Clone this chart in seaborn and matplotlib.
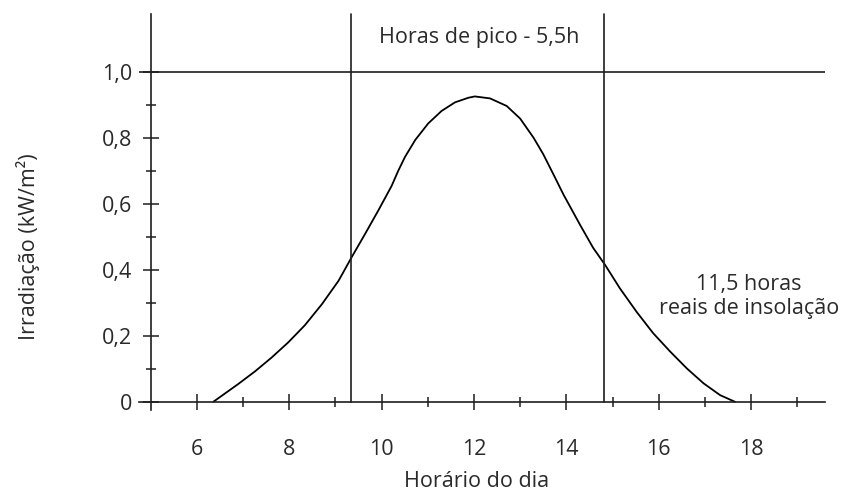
import numpy as np
import pandas as pd
import matplotlib
matplotlib.use("Agg")
import matplotlib.pyplot as plt
import seaborn as sns
from matplotlib.ticker import FixedLocator

# curve (hour of day, irradiance kW/m2)
hours = [6.36, 6.90, 7.26, 7.62, 7.98, 8.34, 8.71, 9.07, 9.36, 9.64,
         9.93, 10.22, 10.36, 10.51, 10.73, 11.01, 11.30, 11.59, 11.88, 12.02,
         12.35, 12.71, 13.00, 13.29, 13.50, 13.72, 13.94, 14.30, 14.58, 14.84,
         15.16, 15.52, 15.88, 16.25, 16.61, 16.97, 17.33, 17.65]
irradiance = [0.0, 0.054, 0.092, 0.134, 0.180, 0.232, 0.296, 0.367, 0.440, 0.508,
              0.580, 0.655, 0.700, 0.743, 0.794, 0.844, 0.882, 0.908, 0.922, 0.926,
              0.920, 0.897, 0.859, 0.801, 0.751, 0.690, 0.628, 0.536, 0.467, 0.415,
              0.344, 0.273, 0.208, 0.152, 0.101, 0.056, 0.020, 0.0]

peak_start = 9.35
peak_end = 14.82
reference_level = 1.0

x_major = [6, 8, 10, 12, 14, 16, 18]
x_minor = [7, 9, 11, 13, 15, 17, 19]
y_major = [0, 0.2, 0.4, 0.6, 0.8, 1.0]
y_minor = [0.1, 0.3, 0.5, 0.7, 0.9]
y_labels = ["0", "0,2", "0,4", "0,6", "0,8", "1,0"]

df = pd.DataFrame({"hora": hours, "irradiacao": irradiance})

sns.set_style("white")
plt.rcParams["font.family"] = ["Open Sans", "DejaVu Sans"]

ink = "#1e1e1e"
txt = "#2a2a2a"
fs = 15.5

fig = plt.figure(figsize=(8.45, 4.95), dpi=100)
ax = fig.add_axes([139 / 845, 85 / 495, 686 / 845, 396 / 495])

sns.lineplot(data=df, x="hora", y="irradiacao", color="black", linewidth=1.3,
             ax=ax, legend=False, solid_joinstyle="round")

ax.axhline(reference_level, color=ink, linewidth=1.2, zorder=1)
ax.plot([peak_start, peak_start], [0, 1.176], color=ink, linewidth=1.2,
        clip_on=False)
ax.plot([peak_end, peak_end], [0, 1.176], color=ink, linewidth=1.2,
        clip_on=False)

ax.set_xlim(4.75, 19.6)
ax.set_ylim(-0.025, 1.176)

for side in ["top", "right"]:
    ax.spines[side].set_visible(False)
ax.spines["left"].set_position(("data", 5))
ax.spines["bottom"].set_position(("data", 0))
for side in ["left", "bottom"]:
    ax.spines[side].set_color(ink)
    ax.spines[side].set_linewidth(1.2)

ax.xaxis.set_major_locator(FixedLocator(x_major))
ax.xaxis.set_minor_locator(FixedLocator(x_minor))
ax.yaxis.set_major_locator(FixedLocator(y_major))
ax.yaxis.set_minor_locator(FixedLocator(y_minor))
ax.set_yticklabels(y_labels)

ax.tick_params(axis="both", which="both", direction="inout", color=ink,
               width=1.1, labelsize=fs, labelcolor=txt,
               bottom=True, left=True, top=False, right=False)
ax.tick_params(axis="both", which="major", length=12)
ax.tick_params(axis="both", which="minor", length=7)
ax.tick_params(axis="x", which="major", pad=21)
ax.tick_params(axis="y", which="major", pad=7)

ax.set_xlabel("Horário do dia", fontsize=fs, color=txt)
ax.set_ylabel("Irradiação (kW/m²)", fontsize=fs, color=txt)
ax.xaxis.set_label_coords((477 - 139) / 686, (410 - 471) / 396)
ax.yaxis.set_label_coords((40 - 139) / 686, (410 - 247) / 396)

ax.text((peak_start + peak_end) / 2 + 0.02, 1.105, "Horas de pico - 5,5h",
        ha="center", va="center", fontsize=fs, color=txt)
ax.text(17.95, 0.32, "11,5 horas\nreais de insolação", ha="center",
        va="center", multialignment="center", fontsize=fs,
        color=txt, linespacing=1.2)

fig.savefig("out.png", dpi=100)
